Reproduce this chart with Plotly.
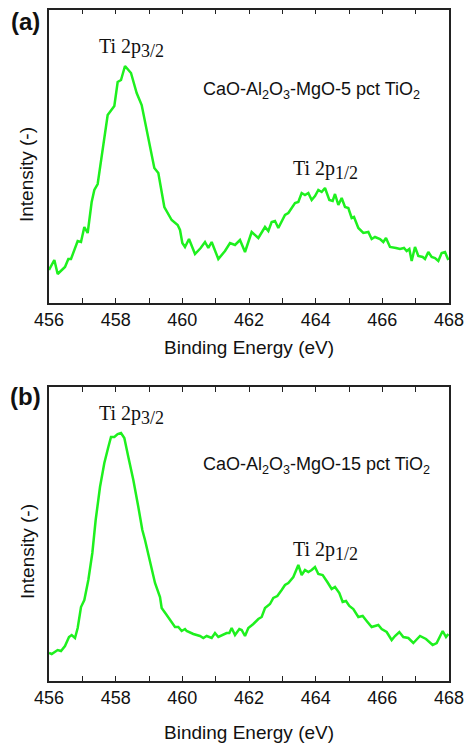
import plotly.graph_objects as go

W, H = 465, 748

# ---- Data (intensity in arbitrary units) ----
energy_a = [456.00, 456.16, 456.26, 456.48, 456.58, 456.66, 456.86, 456.96, 457.06, 457.16,
            457.28, 457.36, 457.46, 457.60, 457.76, 457.96, 458.06, 458.16, 458.28, 458.46,
            458.63, 458.78, 458.98, 459.16, 459.28, 459.46, 459.68, 459.86, 459.93, 460.00,
            460.08, 460.20, 460.38, 460.55, 460.68, 460.78, 460.88, 461.08, 461.28, 461.43,
            461.58, 461.73, 461.88, 462.08, 462.28, 462.48, 462.58, 462.68, 462.78, 462.88,
            463.08, 463.18, 463.38, 463.48, 463.58, 463.68, 463.78, 463.88, 463.98, 464.08,
            464.18, 464.28, 464.41, 464.51, 464.58, 464.68, 464.78, 464.88, 464.98, 465.08,
            465.15, 465.28, 465.43, 465.58, 465.68, 465.78, 465.93, 466.03, 466.11, 466.23,
            466.41, 466.53, 466.65, 466.73, 466.81, 466.88, 466.98, 467.08, 467.21, 467.28,
            467.38, 467.48, 467.58, 467.68, 467.78, 467.88, 467.98]
intensity_a = [33, 43, 29, 36, 44, 44, 62, 61, 76, 70,
               101, 113, 119, 153, 188, 197, 221, 223, 237, 230,
               210, 198, 163, 135, 130, 96, 83, 78, 73, 60,
               56, 64, 49, 55, 61, 55, 61, 44, 52, 60,
               58, 63, 51, 71, 65, 76, 72, 81, 82, 75,
               88, 90, 100, 101, 110, 108, 110, 103, 107, 113,
               111, 115, 103, 102, 109, 98, 105, 96, 95, 85,
               86, 75, 70, 71, 64, 66, 64, 61, 65, 56,
               55, 54, 55, 52, 54, 42, 56, 47, 46, 44,
               51, 46, 45, 42, 50, 51, 43]

energy_b = [456.00, 456.08, 456.26, 456.36, 456.48, 456.60, 456.68, 456.78, 456.86, 456.96,
            457.06, 457.18, 457.30, 457.40, 457.53, 457.66, 457.78, 457.86, 457.96, 458.06,
            458.16, 458.26, 458.38, 458.53, 458.68, 458.80, 458.88, 459.03, 459.18, 459.33,
            459.38, 459.53, 459.68, 459.78, 459.88, 459.98, 460.08, 460.13, 460.33, 460.53,
            460.63, 460.73, 460.88, 460.98, 461.08, 461.23, 461.33, 461.41, 461.48, 461.58,
            461.71, 461.78, 461.88, 461.98, 462.13, 462.28, 462.38, 462.48, 462.63, 462.73,
            462.85, 462.98, 463.08, 463.18, 463.33, 463.48, 463.58, 463.68, 463.78, 463.88,
            463.98, 464.08, 464.21, 464.35, 464.48, 464.58, 464.71, 464.81, 464.91, 465.01,
            465.13, 465.28, 465.41, 465.53, 465.68, 465.88, 465.98, 466.13, 466.28, 466.38,
            466.51, 466.63, 466.78, 466.93, 467.13, 467.31, 467.51, 467.63, 467.73, 467.81,
            467.91, 467.98]
intensity_b = [28, 27, 31, 30, 35, 44, 46, 43, 53, 74,
               81, 101, 128, 161, 194, 218, 234, 244, 244, 247,
               248, 243, 224, 201, 174, 151, 141, 118, 98, 84,
               73, 66, 58, 54, 54, 50, 52, 50, 47, 45,
               43, 45, 43, 48, 44, 46, 48, 48, 53, 46,
               52, 51, 45, 53, 57, 62, 64, 73, 77, 83,
               85, 91, 96, 98, 104, 116, 106, 111, 109, 111,
               114, 107, 106, 99, 92, 94, 88, 79, 80, 75,
               72, 64, 65, 60, 54, 56, 52, 49, 41, 45,
               49, 44, 43, 38, 45, 42, 36, 38, 44, 50,
               44, 47]

x_ticks = list(range(456, 469))
x_ticklabels = [str(v) if v % 2 == 0 else "" for v in x_ticks]

x_title = "Binding Energy (eV)"
y_title = "Intensity (-)"
sub_style = "<sub><span style='font-size:18px'>{}</span></sub>"
sample_a = "CaO-Al<sub>2</sub>O<sub>3</sub>-MgO-5 pct TiO<sub>2</sub>"
sample_b = "CaO-Al<sub>2</sub>O<sub>3</sub>-MgO-15 pct TiO<sub>2</sub>"
peak1 = "Ti 2p" + sub_style.format("3/2")
peak2 = "Ti 2p" + sub_style.format("1/2")

# ---- Layout helpers (pixel -> paper) ----
def px(x):
    return x / W

def py(y):
    return 1 - y / H

GREEN = "#1ef01e"
AXC = "#222222"
TXT = "#111111"
SANS = "Liberation Sans, Arial, sans-serif"
SERIF = "Liberation Serif, DejaVu Serif, serif"

fig = go.Figure()
fig.add_trace(go.Scatter(x=energy_a, y=intensity_a, mode="lines",
                         line=dict(color=GREEN, width=2.5), xaxis="x", yaxis="y",
                         showlegend=False))
fig.add_trace(go.Scatter(x=energy_b, y=intensity_b, mode="lines",
                         line=dict(color=GREEN, width=2.5), xaxis="x2", yaxis="y2",
                         showlegend=False))

xaxis_common = dict(range=[456, 468], tickmode="array", tickvals=x_ticks,
                    ticktext=x_ticklabels, ticks="inside", ticklen=5, tickwidth=1.2,
                    tickcolor=AXC, showline=True, linecolor=AXC, linewidth=1.5,
                    mirror="ticks", showgrid=False, zeroline=False, automargin=False,
                    tickfont=dict(family=SANS, size=18, color=TXT))
yaxis_common = dict(showticklabels=False, ticks="", showline=True, linecolor=AXC,
                    linewidth=1.5, mirror=True, showgrid=False, zeroline=False,
                    automargin=False)

fig.update_layout(
    width=W, height=H,
    margin=dict(l=0, r=0, t=0, b=0, autoexpand=False),
    paper_bgcolor="white", plot_bgcolor="white",
    xaxis=dict(domain=[px(49), px(449)], anchor="y", **xaxis_common),
    yaxis=dict(domain=[py(303), py(9.5)], anchor="x", range=[0, 293.5], **yaxis_common),
    xaxis2=dict(domain=[px(49), px(449)], anchor="y2", **xaxis_common),
    yaxis2=dict(domain=[py(681), py(387)], anchor="x2", range=[0, 294], **yaxis_common),
)

ann = []

def label(text, x, y, size, family=SANS, xanchor="center", angle=0):
    ann.append(dict(text=text, x=px(x), y=py(y), xref="paper", yref="paper",
                    xanchor=xanchor, yanchor="middle", textangle=angle,
                    showarrow=False, font=dict(family=family, size=size, color=TXT)))

# panel labels
label("<b>(a)</b>", 25, 21, 24)
label("<b>(b)</b>", 25, 396, 24)
# axis titles
for yp in (347, 732):
    label(x_title, 249, yp, 19)
for yp in (175, 552):
    label(y_title, 27, yp, 19, angle=-90)
# peak labels
for (xp, yp, t) in [(131, 48, peak1), (325, 170, peak2), (131, 415, peak1), (325, 551, peak2)]:
    label(t, xp, yp, 20, family=SERIF)
# sample labels
label(sample_a, 201, 90, 18, xanchor="left")
label(sample_b, 201, 465, 18, xanchor="left")
fig.update_layout(annotations=ann)

fig.write_html("out.html")
